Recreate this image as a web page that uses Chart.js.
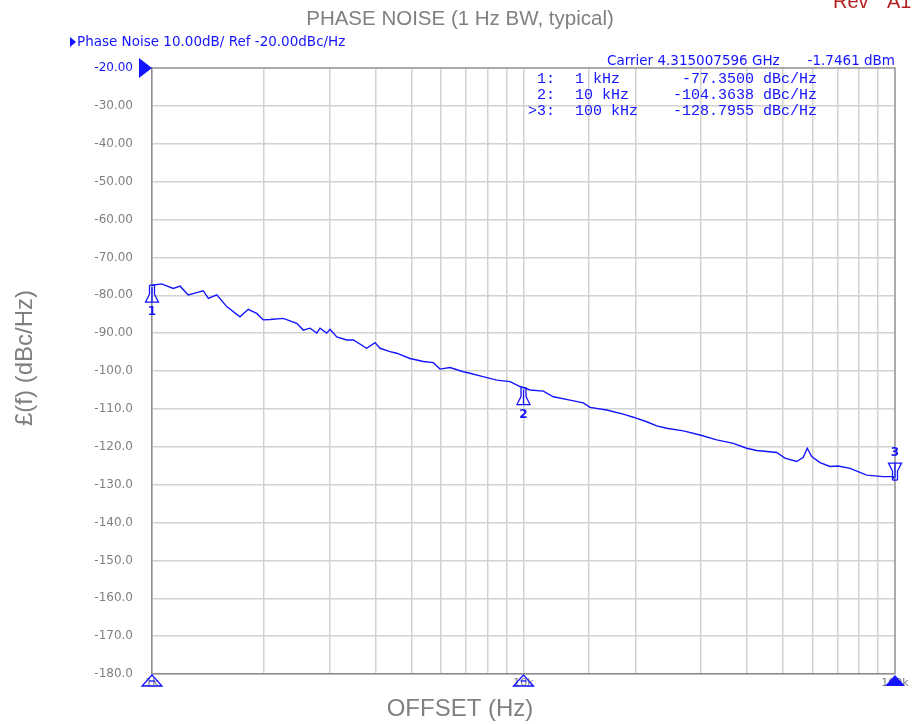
<!DOCTYPE html>
<html>
<head>
<meta charset="utf-8">
<script src="https://cdn.jsdelivr.net/npm/chart.js@4"></script>
<style>
  html, body { margin: 0; padding: 0; background: #fff; }
  #wrap { width: 915px; height: 724px; position: relative; }
</style>
</head>
<body>
<div id="wrap"><canvas id="pn"></canvas></div>
<script>
"use strict";

// trace
var offsetHz = [1000,1062,1141,1190,1252,1319,1374,1418,1494,1589,1725,1816,1913,1993,2078,2256,2452,2555,2663,2776,
  2833,2953,3014,3143,3343,3483,3784,3984,4110,4372,4557,4949,5375,5717,5960,6341,6887,7178,7636,8472,9198,9786,
  10000,10410,11310,12030,13340,14490,15100,16750,18560,19750,21460,22830,24290,26930,29870,33120,36700,39880,
  42440,48030,50560,54370,56640,58060,59670,62830,66840,70380,75680,83900,92990,98950,100000];
var phaseNoise = [-77.35,-77.0,-78.2,-77.6,-79.9,-79.3,-78.8,-80.8,-79.9,-83.0,-85.7,-83.7,-84.8,-86.5,-86.4,-86.1,-87.4,-89.2,-88.7,-90.0,
  -88.7,-90.0,-89.0,-91.0,-91.8,-91.8,-94.0,-92.5,-94.0,-94.9,-95.3,-96.7,-97.5,-97.8,-99.5,-99.1,-100.2,-100.6,-101.3,-102.4,-102.8,-104.1,
  -104.36,-105.0,-105.3,-106.8,-107.7,-108.4,-109.6,-110.3,-111.4,-112.2,-113.4,-114.5,-115.1,-115.8,-116.9,-118.2,-119.1,-120.4,
  -121.0,-121.5,-123.0,-123.9,-122.8,-120.4,-122.6,-124.2,-125.2,-125.1,-125.7,-127.5,-127.9,-127.9,-128.8];

// markers
var markerHz = [1000, 10000, 100000];
var markerDbc = [-77.35, -104.3638, -128.7955];
var markerNames = ['1:', '2:', '>3:'];
var markerFreqText = ['1 kHz', '10 kHz', '100 kHz'];

var xTickLabels = {1000: '1k', 10000: '10k', 100000: '100k'};
var yMin = -180, yMax = -20, yStep = 10;

var BLUE = '#1414ff';
var GRAY = '#808080';

var traceData = offsetHz.map(function(f, i){ return {x: f, y: phaseNoise[i]}; });

function flag(ctx, x, y, dir, label){
    // dir 1: glyph hangs below the point, -1: sits above it
    ctx.beginPath();
    ctx.moveTo(x - 2.5, y); ctx.lineTo(x + 2.5, y);
    ctx.moveTo(x - 2.5, y); ctx.lineTo(x - 2.5, y + 9*dir);
    ctx.lineTo(x - 6.5, y + 17*dir); ctx.lineTo(x + 6.5, y + 17*dir);
    ctx.lineTo(x + 2.5, y + 9*dir); ctx.lineTo(x + 2.5, y);
    ctx.moveTo(x, y + 2*dir); ctx.lineTo(x, y + 17*dir);
    ctx.stroke();
    ctx.font = 'bold 12px "DejaVu Sans"';
    ctx.textAlign = 'center';
    ctx.textBaseline = 'middle';
    ctx.fillText(label, x, y + 27*dir);
}

var overlay = {
    id: 'overlay',
    afterDraw: function(chart){
        var ctx = chart.ctx;
        var a = chart.chartArea;
        var xs = chart.scales.x, ys = chart.scales.y;
        ctx.save();

        // top / right frame
        ctx.strokeStyle = '#9a9a9a';
        ctx.lineWidth = 1.5;
        ctx.beginPath();
        ctx.moveTo(a.left, a.top); ctx.lineTo(a.right, a.top); ctx.lineTo(a.right, a.bottom);
        ctx.stroke();

        // reference level arrow
        var ry = ys.getPixelForValue(yMax);
        ctx.fillStyle = BLUE;
        ctx.beginPath();
        ctx.moveTo(a.left - 13, ry - 10); ctx.lineTo(a.left - 13, ry + 10); ctx.lineTo(a.left, ry);
        ctx.closePath(); ctx.fill();

        // trace markers
        ctx.strokeStyle = BLUE; ctx.fillStyle = BLUE; ctx.lineWidth = 1.3;
        markerHz.forEach(function(f, i){
            var px = xs.getPixelForValue(f), py = ys.getPixelForValue(markerDbc[i]);
            flag(ctx, px, py, i == 2 ? -1 : 1, String(i + 1));
        });

        // stimulus markers on the bottom axis
        markerHz.forEach(function(f, i){
            var px = xs.getPixelForValue(f);
            ctx.beginPath();
            ctx.moveTo(px, a.bottom + 1); ctx.lineTo(px - 10, a.bottom + 12); ctx.lineTo(px + 10, a.bottom + 12);
            ctx.closePath();
            if (i == 2) { ctx.fill(); } else { ctx.stroke(); }
            if (i != 2) {
                ctx.beginPath();
                ctx.moveTo(px - 3, a.bottom + 7); ctx.lineTo(px + 3, a.bottom + 7);
                ctx.stroke();
            }
        });

        // analyzer header
        ctx.fillStyle = BLUE;
        ctx.beginPath();
        ctx.moveTo(70, 37); ctx.lineTo(70, 47); ctx.lineTo(76, 42); ctx.closePath(); ctx.fill();
        ctx.font = '13.5px "DejaVu Sans"';
        ctx.textAlign = 'left'; ctx.textBaseline = 'middle';
        ctx.fillText('Phase Noise 10.00dB/ Ref -20.00dBc/Hz', 77, 42);
        ctx.fillText('Carrier 4.315007596 GHz', 607, 61);
        ctx.textAlign = 'right';
        ctx.fillText('-1.7461 dBm', 895, 61);

        // marker table
        ctx.font = '15px "Liberation Mono"';
        markerHz.forEach(function(f, i){
            var ty = 79 + i * 16;
            ctx.textAlign = 'right';
            ctx.fillText(markerNames[i], 555, ty);
            ctx.fillText(markerDbc[i].toFixed(4), 754, ty);
            ctx.textAlign = 'left';
            ctx.fillText(markerFreqText[i], 575, ty);
            ctx.fillText('dBc/Hz', 763, ty);
        });

        // titles
        ctx.fillStyle = GRAY;
        ctx.textAlign = 'center'; ctx.textBaseline = 'alphabetic';
        ctx.font = '20.5px "Liberation Sans"';
        ctx.fillText('PHASE NOISE (1 Hz BW, typical)', 460, 25);
        ctx.font = '24px "Liberation Sans"';
        ctx.fillText('OFFSET (Hz)', 460, 716);
        ctx.save();
        ctx.translate(25, 358);
        ctx.rotate(-Math.PI / 2);
        ctx.textBaseline = 'middle';
        ctx.fillText('£(f) (dBc/Hz)', 0, 0);
        ctx.restore();

        ctx.fillStyle = '#b22222';
        ctx.textAlign = 'left';
        ctx.font = '20px "Liberation Sans"';
        ctx.fillText('Rev', 833, 8);
        ctx.fillText('A1', 887, 8);

        ctx.restore();
    }
};

new Chart(document.getElementById('pn'), {
    type: 'line',
    data: {
        datasets: [{
            label: 'Phase Noise',
            data: traceData,
            borderColor: BLUE,
            borderWidth: 1.4,
            pointRadius: 0,
            tension: 0,
            fill: false
        }]
    },
    options: {
        responsive: true,
        maintainAspectRatio: false,
        animation: false,
        layout: { padding: { top: 68, right: 20, left: 0, bottom: 0 } },
        plugins: {
            legend: { display: false },
            tooltip: { enabled: false }
        },
        scales: {
            x: {
                type: 'logarithmic',
                min: 1000,
                max: 100000,
                afterFit: function(s){ s.height = 50; },
                grid: { color: '#d2d2d2', lineWidth: 1.5, drawTicks: false },
                border: { color: '#8c8c8c', width: 1.5 },
                ticks: {
                    autoSkip: false,
                    maxRotation: 0,
                    padding: 3,
                    color: GRAY,
                    font: { family: 'DejaVu Sans', size: 11 },
                    callback: function(v){ return xTickLabels[v] || ''; }
                }
            },
            y: {
                min: yMin,
                max: yMax,
                afterFit: function(s){ s.width = 152; },
                grid: { color: '#d2d2d2', lineWidth: 1.5, drawTicks: false },
                border: { color: '#8c8c8c', width: 1.5 },
                ticks: {
                    stepSize: yStep,
                    padding: 19,
                    font: { family: 'DejaVu Sans', size: 12 },
                    color: function(c){ return c.tick && c.tick.value == yMax ? BLUE : GRAY; },
                    callback: function(v){ return v >= -90 ? v.toFixed(2) : v.toFixed(1); }
                }
            }
        }
    },
    plugins: [overlay]
});
</script>
</body>
</html>
